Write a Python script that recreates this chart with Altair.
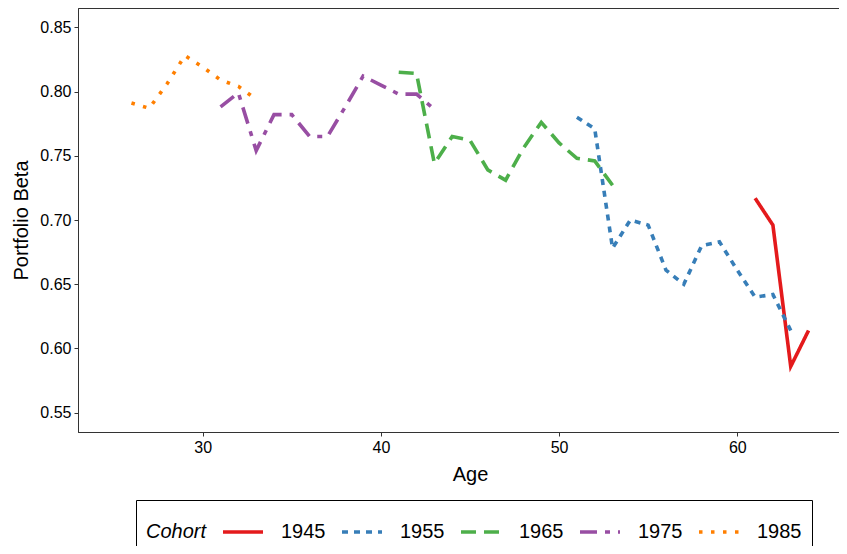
import altair as alt
import pandas as pd

cohorts = ["1945", "1955", "1965", "1975", "1985"]

ages_1945 = [61, 62, 63, 64]
beta_1945 = [0.717, 0.696, 0.586, 0.614]

ages_1955 = [51, 52, 53, 54, 55, 56, 57, 58, 59, 60, 61, 62, 63]
beta_1955 = [0.780, 0.771, 0.678, 0.700, 0.696, 0.661, 0.650, 0.680, 0.683, 0.661, 0.640, 0.642, 0.614]

ages_1965 = [41, 42, 43, 44, 45, 46, 47, 48, 49, 50, 51, 52, 53]
beta_1965 = [0.815, 0.814, 0.744, 0.765, 0.762, 0.739, 0.731, 0.756, 0.776, 0.760, 0.748, 0.746, 0.727]

ages_1975 = [31, 32, 33, 34, 35, 36, 37, 38, 39, 40, 41, 42, 43]
beta_1975 = [0.788, 0.799, 0.754, 0.782, 0.782, 0.765, 0.765, 0.788, 0.812, 0.805, 0.798, 0.798, 0.786]

ages_1985 = [26, 27, 28, 29, 30, 31, 32, 33]
beta_1985 = [0.791, 0.787, 0.806, 0.828, 0.819, 0.809, 0.804, 0.794]

colors = ["#E41A1C", "#377EB8", "#4DAF4A", "#984EA3", "#FF7F00"]
dashes = [[1, 0], [6, 6], [15, 8], [17, 8, 5, 8], [3.5, 8.5]]

y_ticks = [0.55, 0.60, 0.65, 0.70, 0.75, 0.80, 0.85]
x_ticks = [30, 40, 50, 60]

rows = []
for c, ages, betas in zip(
    cohorts,
    [ages_1945, ages_1955, ages_1965, ages_1975, ages_1985],
    [beta_1945, beta_1955, beta_1965, beta_1975, beta_1985],
):
    for a, b in zip(ages, betas):
        rows.append({"Age": a, "Beta": b, "Cohort": c})
df = pd.DataFrame(rows)

FONT = "Liberation Sans"
xscale = alt.Scale(domain=[23, 67], nice=False, zero=False)
yscale = alt.Scale(domain=[0.535, 0.865], nice=False, zero=False)

legend = alt.Legend(
    orient="none",
    legendX=58,
    legendY=492,
    direction="horizontal",
    title="Cohort",
    titleOrient="left",
    titleFontStyle="italic",
    titleFontWeight="normal",
    titleFontSize=20,
    titleFont=FONT,
    titleColor="black",
    titlePadding=14,
    titleBaseline="line-top",
    titleLineHeight=12,
    titleAnchor="middle",
    labelFontSize=20,
    labelFont=FONT,
    labelColor="black",
    labelOffset=16,
    columnPadding=8,
    symbolType="stroke",
    symbolSize=1600,
    symbolStrokeWidth=3.6,
    padding=10,
    strokeColor="black",
    fillColor="white",
)

chart = (
    alt.Chart(df)
    .mark_line(strokeWidth=3.6, strokeCap="butt", clip=True)
    .encode(
        x=alt.X(
            "Age:Q",
            scale=xscale,
            axis=alt.Axis(values=x_ticks, title="Age", titlePadding=9),
        ),
        y=alt.Y(
            "Beta:Q",
            scale=yscale,
            axis=alt.Axis(values=y_ticks, format=".2f", title="Portfolio Beta", titlePadding=8),
        ),
        color=alt.Color("Cohort:N", scale=alt.Scale(domain=cohorts, range=colors), legend=legend),
        strokeDash=alt.StrokeDash("Cohort:N", scale=alt.Scale(domain=cohorts, range=dashes), legend=legend),
    )
    .properties(
        width=784,
        height=424,
        padding={"left": 70, "top": 0, "right": -23, "bottom": 114},
        autosize=alt.AutoSizeParams(type="none"),
    )
    .configure_view(stroke="#333333", strokeWidth=1)
    .configure_axis(
        grid=False,
        domainColor="#333333",
        domainWidth=1,
        tickColor="#333333",
        tickSize=4,
        labelFont=FONT,
        labelFontSize=16,
        labelColor="black",
        labelPadding=3,
        titleFont=FONT,
        titleFontSize=20,
        titleFontWeight="normal",
        titleColor="black",
    )
)

chart.save("out.html", embed_options={"renderer": "svg", "actions": False})
